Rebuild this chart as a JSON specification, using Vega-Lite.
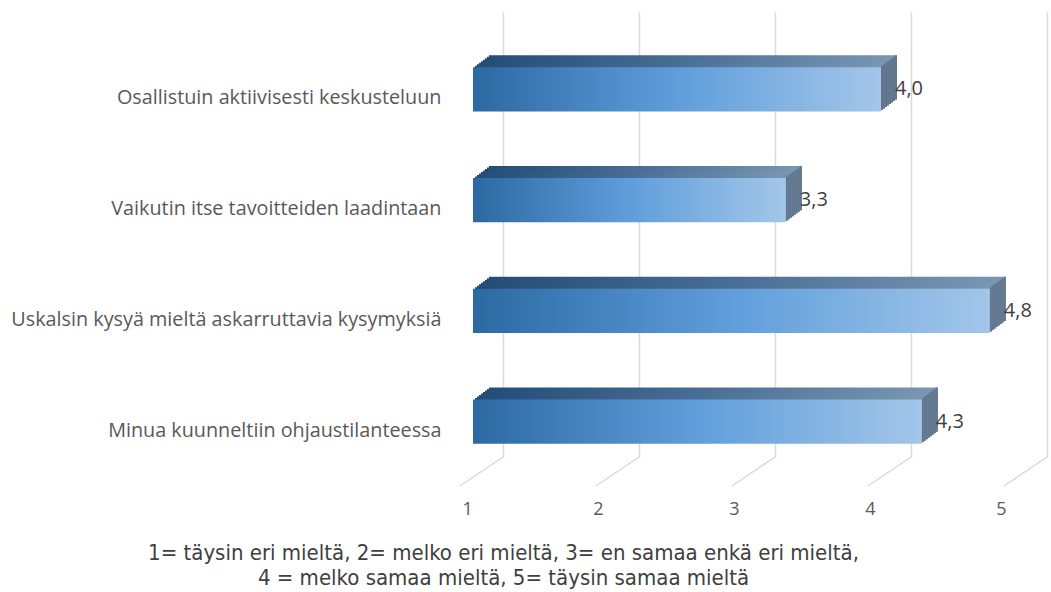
{
  "$schema": "https://vega.github.io/schema/vega-lite/v6.json",
  "width": 544,
  "height": 445,
  "autosize": {"type": "none"},
  "padding": {"left": 503, "top": 12, "right": 4, "bottom": 135},
  "background": "white",
  "config": {
    "view": {"stroke": null},
    "locale": {"number": {"decimal": ",", "thousands": " ", "grouping": [3], "currency": ["", " €"]}}
  },
  "datasets": {
    "bars": [
      {"cat": "Osallistuin aktiivisesti keskusteluun", "v": 4.0},
      {"cat": "Vaikutin itse tavoitteiden laadintaan", "v": 3.3},
      {"cat": "Uskalsin kysyä mieltä askarruttavia kysymyksiä", "v": 4.8},
      {"cat": "Minua kuunneltiin ohjaustilanteessa", "v": 4.3}
    ],
    "ticks": [{"v": 1}, {"v": 2}, {"v": 3}, {"v": 4}, {"v": 5}]
  },
  "layer": [
    {
      "data": {"name": "ticks"},
      "mark": {"type": "rule", "color": "#d9d9d9", "strokeWidth": 1.5, "x2Offset": -43, "y2Offset": 29},
      "encoding": {
        "x": {"field": "v", "type": "quantitative", "scale": {"domain": [1, 5], "nice": false, "zero": false},
          "axis": {"values": [1, 2, 3, 4, 5], "grid": true, "gridColor": "#d9d9d9", "gridWidth": 1.5, "domain": false, "ticks": false,
            "labelOffset": -41, "labelPadding": 43, "labelFontSize": 18, "labelColor": "#595959", "labelFont": "Open Sans",
            "title": ["1= täysin eri mieltä, 2= melko eri mieltä, 3= en samaa enkä eri mieltä,", "4 = melko samaa mieltä, 5= täysin samaa mieltä"],
            "titleX": 0, "titleY": 85, "titleBaseline": "top", "titleAlign": "center", "titleAnchor": null, "titleFontSize": 22, "titleFontWeight": "normal",
            "titleColor": "#404040", "titleFont": "DejaVu Sans Condensed, Lato, sans-serif", "titleLineHeight": 25}},
        "x2": {"field": "v"},
        "y": {"value": "height"},
        "y2": {"value": "height"}
      }
    },
    {
      "data": {"name": "bars"},
      "encoding": {
        "y": {"field": "cat", "type": "nominal", "sort": null,
          "scale": {"paddingInner": 0.6, "paddingOuter": 0.31},
          "axis": {"title": null, "domain": false, "ticks": false, "labelPadding": 62, "labelOffset": 30, "labelFontSize": 19.8,
            "labelColor": "#595959", "labelFont": "Open Sans", "labelLimit": 0}},
        "x": {"field": "v", "type": "quantitative", "scale": {"domain": [1, 5], "nice": false, "zero": false},
          "axis": {"values": [1, 2, 3, 4, 5], "grid": true, "gridColor": "#d9d9d9", "gridWidth": 1.5, "domain": false, "ticks": false,
            "labelOffset": -41, "labelPadding": 43, "labelFontSize": 18, "labelColor": "#595959", "labelFont": "Open Sans",
            "title": ["1= täysin eri mieltä, 2= melko eri mieltä, 3= en samaa enkä eri mieltä,", "4 = melko samaa mieltä, 5= täysin samaa mieltä"],
            "titleX": 0, "titleY": 85, "titleBaseline": "top", "titleAlign": "center", "titleAnchor": null, "titleFontSize": 22, "titleFontWeight": "normal",
            "titleColor": "#404040", "titleFont": "DejaVu Sans Condensed, Lato, sans-serif", "titleLineHeight": 25}}
      },
      "layer": [
        {"mark": {"type": "bar", "xOffset": -14, "x2Offset": -14, "yOffset": 9, "color": {"gradient": "linear", "stops": [{"offset": 0, "color": "#234c77"}, {"offset": 0.5, "color": "#4a6f96"}, {"offset": 1, "color": "#7a97b3"}]}}, "encoding": {"x2": {"datum": 1}}},
        {"mark": {"type": "bar", "xOffset": -16, "x2Offset": -16, "yOffset": 10.5, "color": {"gradient": "linear", "stops": [{"offset": 0, "color": "#234c77"}, {"offset": 0.5, "color": "#4a6f96"}, {"offset": 1, "color": "#7a97b3"}]}}, "encoding": {"x2": {"datum": 1}}},
        {"mark": {"type": "bar", "xOffset": -18, "x2Offset": -18, "yOffset": 12, "color": {"gradient": "linear", "stops": [{"offset": 0, "color": "#234c77"}, {"offset": 0.5, "color": "#4a6f96"}, {"offset": 1, "color": "#7a97b3"}]}}, "encoding": {"x2": {"datum": 1}}},
        {"mark": {"type": "bar", "xOffset": -20, "x2Offset": -20, "yOffset": 13.5, "color": {"gradient": "linear", "stops": [{"offset": 0, "color": "#234c77"}, {"offset": 0.5, "color": "#4a6f96"}, {"offset": 1, "color": "#7a97b3"}]}}, "encoding": {"x2": {"datum": 1}}},
        {"mark": {"type": "bar", "xOffset": -22, "x2Offset": -22, "yOffset": 15, "color": {"gradient": "linear", "stops": [{"offset": 0, "color": "#234c77"}, {"offset": 0.5, "color": "#4a6f96"}, {"offset": 1, "color": "#7a97b3"}]}}, "encoding": {"x2": {"datum": 1}}},
        {"mark": {"type": "bar", "xOffset": -24, "x2Offset": -24, "yOffset": 16.5, "color": {"gradient": "linear", "stops": [{"offset": 0, "color": "#234c77"}, {"offset": 0.5, "color": "#4a6f96"}, {"offset": 1, "color": "#7a97b3"}]}}, "encoding": {"x2": {"datum": 1}}},
        {"mark": {"type": "bar", "xOffset": -26, "x2Offset": -26, "yOffset": 18, "color": {"gradient": "linear", "stops": [{"offset": 0, "color": "#234c77"}, {"offset": 0.5, "color": "#4a6f96"}, {"offset": 1, "color": "#7a97b3"}]}}, "encoding": {"x2": {"datum": 1}}},
        {"mark": {"type": "bar", "xOffset": -28, "x2Offset": -28, "yOffset": 19.5, "color": {"gradient": "linear", "stops": [{"offset": 0, "color": "#234c77"}, {"offset": 0.5, "color": "#4a6f96"}, {"offset": 1, "color": "#7a97b3"}]}}, "encoding": {"x2": {"datum": 1}}},
        {"mark": {"type": "bar", "xOffset": -16, "x2Offset": -14, "yOffset": 9, "color": "#62778e"}, "encoding": {"x2": {"field": "v"}}},
        {"mark": {"type": "bar", "xOffset": -18, "x2Offset": -16, "yOffset": 10.5, "color": "#62778e"}, "encoding": {"x2": {"field": "v"}}},
        {"mark": {"type": "bar", "xOffset": -20, "x2Offset": -18, "yOffset": 12, "color": "#62778e"}, "encoding": {"x2": {"field": "v"}}},
        {"mark": {"type": "bar", "xOffset": -22, "x2Offset": -20, "yOffset": 13.5, "color": "#62778e"}, "encoding": {"x2": {"field": "v"}}},
        {"mark": {"type": "bar", "xOffset": -24, "x2Offset": -22, "yOffset": 15, "color": "#62778e"}, "encoding": {"x2": {"field": "v"}}},
        {"mark": {"type": "bar", "xOffset": -26, "x2Offset": -24, "yOffset": 16.5, "color": "#62778e"}, "encoding": {"x2": {"field": "v"}}},
        {"mark": {"type": "bar", "xOffset": -28, "x2Offset": -26, "yOffset": 18, "color": "#62778e"}, "encoding": {"x2": {"field": "v"}}},
        {"mark": {"type": "bar", "xOffset": -30, "x2Offset": -28, "yOffset": 19.5, "color": "#62778e"}, "encoding": {"x2": {"field": "v"}}},
        {"mark": {"type": "bar", "xOffset": -30, "x2Offset": -30, "yOffset": 21, "color": {"gradient": "linear", "stops": [{"offset": 0, "color": "#2c69a3"}, {"offset": 0.5, "color": "#5f9edb"}, {"offset": 1, "color": "#a3c6e9"}]}}, "encoding": {"x2": {"datum": 1}}},
        {"mark": {"type": "text", "xOffset": -16, "yOffset": 21, "align": "left", "baseline": "middle", "fontSize": 20, "font": "Open Sans", "color": "#404040"},
          "encoding": {"text": {"field": "v", "type": "quantitative", "format": ".1f"}}}
      ]
    }
  ]
}
